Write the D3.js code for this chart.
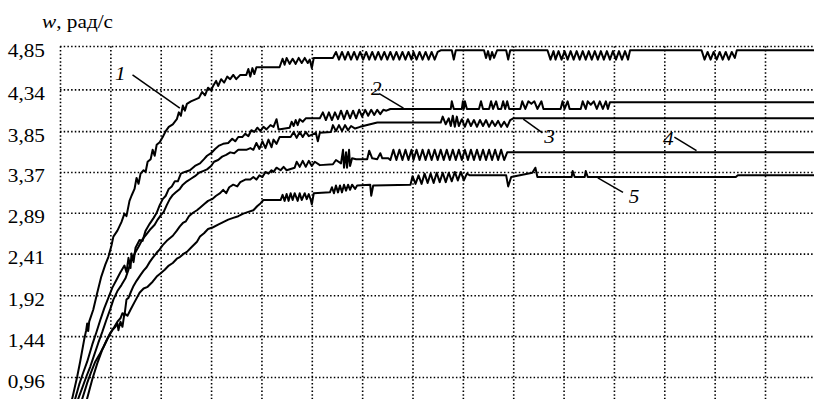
<!DOCTYPE html>
<html>
<head>
<meta charset="utf-8">
<script src="https://cdn.jsdelivr.net/npm/d3@7"></script>
<style>
  html, body { margin: 0; padding: 0; background: #fff; }
  svg { display: block; }
</style>
</head>
<body>
<div id="chart"></div>
<script>
// angular speed w (рад/с) vs time t (grid step = 50 time units), curves 1..5
const yTicks = [4.85, 4.34, 3.85, 3.37, 2.89, 2.41, 1.92, 1.44, 0.96];
const xTicks = [0, 50, 100, 150, 200, 250, 300, 350, 400, 450, 500, 550, 600, 650, 700, 750];

const curve1 = [
  [9,0.57],[12,0.70],[17,0.96],[20,1.14],[24,1.40],[26,1.51],[27,1.59],[28,1.50],[29,1.61],[33,1.75],
  [37,1.95],[41,2.14],[45,2.28],[48,2.37],[51,2.50],[53,2.61],[57,2.68],[61,2.78],[64,2.88],[66,2.85],
  [69,3.03],[71,3.09],[74,3.17],[76,3.30],[78,3.23],[80,3.35],[83,3.39],[85,3.37],[87,3.49],[90,3.52],
  [92,3.63],[94,3.56],[96,3.69],[99,3.72],[102,3.78],[105,3.85],[108,3.90],[112,3.93],[116,3.99],[118,4.07],
  [120,4.03],[122,4.15],[124,4.09],[126,4.17],[130,4.20],[138,4.24],[141,4.31],[144,4.27],[147,4.36],[150,4.33],
  [152,4.38],[155,4.44],[157,4.38],[160,4.46],[163,4.42],[166,4.49],[169,4.46],[172,4.51],[175,4.46],[179,4.51],
  [185,4.51],[187,4.58],[189,4.49],[191,4.59],[193,4.52],[195,4.60],[198,4.60],[218,4.60],[221,4.70],[223,4.63],
  [225,4.71],[228,4.64],[231,4.70],[234,4.64],[237,4.71],[240,4.65],[243,4.71],[246,4.65],[248,4.69],[250,4.59],
  [252,4.71],[271,4.71],[274,4.78],[277,4.69],[280,4.78],[283,4.69],[286,4.78],[289,4.69],[292,4.78],[295,4.69],
  [298,4.78],[301,4.69],[304,4.78],[307,4.69],[310,4.78],[313,4.69],[316,4.78],[319,4.69],[322,4.78],[325,4.69],
  [328,4.78],[331,4.69],[334,4.78],[337,4.69],[340,4.78],[343,4.69],[346,4.78],[349,4.69],[351,4.78],[354,4.69],
  [357,4.78],[360,4.69],[363,4.78],[366,4.69],[369,4.78],[372,4.69],[375,4.78],[378,4.80],[389,4.80],[391,4.69],
  [393,4.80],[421,4.80],[423,4.71],[425,4.79],[427,4.69],[429,4.78],[431,4.71],[434,4.80],[443,4.80],[445,4.69],
  [447,4.80],[484,4.80],[487,4.69],[490,4.79],[492,4.69],[495,4.79],[498,4.69],[501,4.79],[504,4.69],[507,4.79],
  [510,4.69],[513,4.79],[516,4.69],[519,4.79],[522,4.69],[525,4.79],[528,4.69],[531,4.79],[534,4.69],[537,4.79],
  [540,4.69],[543,4.79],[546,4.69],[549,4.79],[552,4.69],[555,4.79],[558,4.69],[561,4.79],[564,4.69],[566,4.80],
  [637,4.80],[640,4.69],[643,4.78],[646,4.69],[649,4.78],[652,4.69],[655,4.78],[658,4.69],[661,4.78],[664,4.69],
  [667,4.78],[670,4.71],[672,4.80],[751,4.80]
];

const curve2 = [
  [12,0.57],[15,0.70],[19,0.87],[23,1.01],[27,1.14],[32,1.34],[36,1.48],[40,1.63],[44,1.77],[48,1.89],
  [52,2.01],[56,2.10],[60,2.19],[64,2.27],[66,2.19],[68,2.36],[70,2.24],[71,2.41],[73,2.31],[75,2.48],
  [79,2.57],[82,2.56],[85,2.68],[89,2.76],[93,2.83],[96,2.89],[99,2.98],[102,3.05],[105,3.09],[108,3.17],
  [111,3.20],[114,3.26],[117,3.26],[120,3.35],[124,3.37],[129,3.39],[134,3.44],[139,3.47],[143,3.52],[146,3.56],
  [150,3.59],[154,3.64],[158,3.68],[162,3.70],[167,3.71],[171,3.76],[174,3.73],[177,3.78],[181,3.78],[184,3.82],
  [187,3.79],[190,3.86],[193,3.84],[196,3.89],[199,3.85],[202,3.90],[205,3.87],[209,3.92],[212,3.90],[215,3.99],
  [217,3.87],[228,3.89],[230,3.96],[232,3.91],[234,3.98],[236,3.92],[238,3.99],[241,3.96],[244,4.00],[258,4.00],
  [261,4.07],[264,3.98],[267,4.07],[270,3.98],[273,4.07],[276,3.99],[279,4.09],[282,3.99],[285,4.09],[288,4.00],
  [291,4.09],[294,4.00],[297,4.10],[300,4.02],[303,4.10],[306,4.03],[309,4.10],[312,4.04],[315,4.10],[318,4.05],
  [321,4.10],[324,4.09],[328,4.11],[331,4.11],[388,4.11],[389,4.20],[391,4.11],[399,4.11],[400,4.20],[401,4.11],
  [402,4.20],[404,4.11],[416,4.11],[418,4.20],[420,4.11],[426,4.11],[428,4.20],[430,4.11],[433,4.20],[435,4.11],
  [438,4.11],[440,4.20],[442,4.11],[444,4.20],[446,4.11],[457,4.11],[459,4.20],[462,4.11],[465,4.20],[468,4.17],
  [471,4.20],[474,4.11],[478,4.20],[480,4.11],[497,4.11],[499,4.20],[501,4.11],[504,4.20],[506,4.11],[517,4.11],
  [519,4.20],[522,4.11],[524,4.20],[527,4.16],[530,4.20],[533,4.11],[536,4.20],[539,4.11],[542,4.20],[544,4.11],
  [546,4.19],[751,4.19]
];

const curve3 = [
  [15,0.57],[18,0.70],[22,0.83],[26,0.96],[30,1.08],[34,1.22],[38,1.36],[42,1.49],[46,1.63],[50,1.76],
  [53,1.87],[57,1.97],[61,2.04],[65,2.12],[68,2.22],[70,2.31],[74,2.41],[78,2.49],[82,2.58],[86,2.64],
  [90,2.70],[94,2.75],[97,2.81],[100,2.86],[103,2.90],[106,2.98],[109,3.05],[112,3.10],[115,3.13],[119,3.17],
  [122,3.22],[126,3.26],[130,3.29],[134,3.32],[138,3.36],[142,3.38],[146,3.40],[150,3.44],[153,3.49],[157,3.51],
  [161,3.55],[165,3.57],[169,3.60],[173,3.59],[177,3.63],[185,3.63],[189,3.65],[192,3.63],[195,3.71],[198,3.64],
  [201,3.73],[204,3.65],[207,3.75],[210,3.66],[212,3.75],[215,3.70],[218,3.78],[229,3.78],[232,3.84],[235,3.77],
  [238,3.84],[241,3.78],[244,3.84],[247,3.79],[254,3.83],[256,3.73],[258,3.83],[269,3.84],[271,3.92],[274,3.85],
  [277,3.92],[280,3.85],[283,3.92],[286,3.86],[289,3.91],[293,3.88],[298,3.90],[315,3.95],[378,3.95],[380,4.02],
  [383,3.93],[386,4.00],[388,3.91],[390,4.03],[392,3.90],[394,4.02],[396,3.91],[399,3.99],[402,3.90],[405,3.99],
  [408,3.91],[411,3.98],[414,3.90],[417,3.98],[420,3.91],[423,3.98],[426,3.90],[429,3.97],[432,3.91],[435,3.97],
  [438,3.90],[441,3.96],[444,3.90],[447,3.98],[450,4.00],[751,4.00]
];

const curve4 = [
  [19,0.57],[22,0.70],[27,0.89],[31,1.02],[35,1.14],[39,1.22],[43,1.31],[47,1.41],[50,1.48],[54,1.55],
  [57,1.61],[60,1.65],[62,1.71],[64,1.68],[66,1.87],[68,1.89],[70,1.95],[73,2.03],[76,2.09],[80,2.16],
  [83,2.21],[86,2.25],[89,2.31],[92,2.36],[96,2.42],[99,2.46],[102,2.51],[106,2.56],[109,2.59],[112,2.62],
  [116,2.68],[119,2.73],[122,2.77],[125,2.79],[128,2.85],[132,2.89],[136,2.92],[139,2.95],[143,2.99],[147,3.03],
  [151,3.05],[155,3.09],[159,3.12],[162,3.16],[165,3.12],[168,3.19],[172,3.22],[176,3.20],[179,3.25],[184,3.28],
  [189,3.28],[192,3.31],[195,3.28],[198,3.33],[201,3.31],[204,3.37],[207,3.35],[210,3.39],[212,3.37],[215,3.42],
  [219,3.39],[222,3.43],[225,3.39],[233,3.42],[235,3.49],[238,3.43],[241,3.50],[244,3.43],[247,3.50],[250,3.44],
  [253,3.49],[258,3.45],[271,3.46],[274,3.51],[279,3.47],[281,3.63],[282,3.42],[284,3.60],[285,3.42],[287,3.63],
  [288,3.44],[290,3.53],[294,3.52],[305,3.52],[307,3.62],[310,3.53],[315,3.52],[318,3.59],[320,3.53],[326,3.53],
  [328,3.51],[331,3.63],[334,3.51],[337,3.63],[340,3.51],[343,3.63],[346,3.51],[349,3.63],[351,3.51],[354,3.63],
  [357,3.51],[360,3.63],[363,3.51],[366,3.63],[369,3.51],[372,3.63],[375,3.51],[378,3.63],[381,3.51],[384,3.63],
  [387,3.51],[390,3.63],[393,3.51],[396,3.63],[399,3.51],[402,3.63],[405,3.51],[408,3.63],[411,3.51],[414,3.63],
  [417,3.51],[420,3.63],[423,3.51],[426,3.63],[429,3.51],[432,3.63],[435,3.51],[438,3.63],[441,3.51],[444,3.60],
  [751,3.60]
];

const curve5 = [
  [24,0.57],[27,0.71],[32,0.93],[37,1.12],[42,1.28],[48,1.43],[52,1.51],[55,1.55],[57,1.59],[58,1.51],
  [60,1.61],[62,1.55],[64,1.71],[67,1.68],[70,1.75],[74,1.84],[79,1.95],[83,2.00],[87,2.02],[92,2.08],
  [96,2.14],[100,2.18],[104,2.22],[108,2.27],[112,2.30],[116,2.35],[119,2.37],[123,2.41],[126,2.43],[131,2.49],
  [136,2.55],[139,2.61],[143,2.65],[147,2.70],[152,2.72],[157,2.75],[162,2.78],[167,2.81],[172,2.83],[177,2.85],
  [182,2.88],[187,2.90],[192,2.92],[196,2.97],[199,3.00],[202,3.04],[219,3.04],[221,3.10],[223,3.03],[225,3.11],
  [227,3.03],[229,3.12],[231,3.04],[233,3.12],[236,3.03],[238,3.12],[240,3.04],[243,3.12],[245,3.05],[247,3.11],
  [249,3.04],[250,2.99],[252,3.12],[268,3.13],[270,3.19],[272,3.12],[274,3.21],[276,3.13],[278,3.21],[280,3.13],
  [282,3.22],[284,3.15],[286,3.22],[288,3.16],[290,3.22],[293,3.17],[295,3.21],[308,3.22],[309,3.09],[311,3.21],
  [348,3.22],[350,3.32],[353,3.23],[356,3.33],[359,3.23],[362,3.35],[365,3.24],[368,3.35],[371,3.24],[374,3.36],
  [377,3.25],[380,3.36],[383,3.25],[386,3.36],[389,3.26],[392,3.37],[395,3.27],[398,3.37],[401,3.27],[404,3.35],
  [407,3.33],[443,3.33],[445,3.20],[448,3.31],[469,3.36],[472,3.42],[474,3.31],[508,3.31],[509,3.38],[511,3.31],
  [521,3.31],[522,3.38],[524,3.31],[671,3.31],[673,3.33],[751,3.33]
];

const curves = [curve1, curve2, curve3, curve4, curve5];

// curve number labels: text position and leader line (in data units)
const labelNames = ['1', '2', '3', '4', '5'];
const labelPos = [[60, 4.53], [314, 4.35], [486, 3.79], [604, 3.77], [570, 3.08]];
const leaders = [
  [[72, 4.51], [119, 4.12]],
  [[317, 4.29], [341, 4.12]],
  [[460, 3.99], [479, 3.83]],
  [[610, 3.78], [632, 3.62]],
  [[534, 3.30], [559, 3.13]]
];

const W = 814, H = 399;
const marginLeft = 60, marginTop = 46;
const fontFamily = '"Liberation Serif", "Times New Roman", serif';
const stretch = 1.12;

const x = d3.scaleLinear().domain([0, 750]).range([marginLeft, marginLeft + 750 * 1.00716]);
const y = d3.scaleLinear().domain([0.96, 4.85]).range([377, marginTop]);
const plotBottom = y(0.48);

const svg = d3.select('#chart').append('svg')
  .attr('width', W)
  .attr('height', H)
  .style('background', '#fff');

// horizontal grid + y labels
const yAxis = svg.append('g')
  .attr('transform', `translate(${marginLeft},0)`)
  .call(d3.axisLeft(y)
    .tickValues(yTicks)
    .tickSize(-(W - marginLeft))
    .tickPadding(15)
    .tickFormat(d => d.toFixed(2).replace('.', ',')));
yAxis.select('.domain').remove();
yAxis.selectAll('line')
  .attr('stroke', '#000')
  .attr('stroke-width', 1.6)
  .attr('stroke-dasharray', '1.5,2.2');
yAxis.selectAll('text')
  .attr('x', null)
  .attr('dy', null)
  .attr('transform', `translate(-15,10) scale(${stretch},1)`)
  .style('font-family', fontFamily)
  .style('font-size', '19px')
  .attr('fill', '#000');

// vertical grid
const xAxis = svg.append('g')
  .attr('transform', `translate(0,${plotBottom})`)
  .call(d3.axisBottom(x)
    .tickValues(xTicks)
    .tickSize(-(plotBottom - marginTop))
    .tickFormat(''));
xAxis.select('.domain').remove();
xAxis.selectAll('line')
  .attr('stroke', '#000')
  .attr('stroke-width', 1.6)
  .attr('stroke-dasharray', '1.5,2.2');

// axis title
const title = svg.append('text')
  .attr('transform', `translate(42,28) scale(${stretch},1)`)
  .style('font-family', fontFamily)
  .style('font-size', '19px')
  .attr('fill', '#000');
title.append('tspan').style('font-style', 'italic').text('w');
title.append('tspan').text(', рад/с');

// curves
const line = d3.line()
  .x(d => x(d[0]))
  .y(d => y(d[1]));

svg.append('g')
  .selectAll('path')
  .data(curves)
  .enter()
  .append('path')
  .attr('d', line)
  .attr('fill', 'none')
  .attr('stroke', '#000')
  .attr('stroke-width', 2)
  .attr('stroke-linejoin', 'round');

// leaders and labels
svg.append('g')
  .selectAll('line')
  .data(leaders)
  .enter()
  .append('line')
  .attr('x1', d => x(d[0][0]))
  .attr('y1', d => y(d[0][1]))
  .attr('x2', d => x(d[1][0]))
  .attr('y2', d => y(d[1][1]))
  .attr('stroke', '#000')
  .attr('stroke-width', 1.5);

svg.append('g')
  .selectAll('text')
  .data(labelNames)
  .enter()
  .append('text')
  .attr('transform', (d, i) => `translate(${x(labelPos[i][0])},${y(labelPos[i][1])}) scale(${stretch},1)`)
  .attr('text-anchor', 'middle')
  .attr('dy', '0.35em')
  .style('font-family', fontFamily)
  .style('font-style', 'italic')
  .style('font-size', '19px')
  .attr('fill', '#000')
  .text(d => d);
</script>
</body>
</html>
